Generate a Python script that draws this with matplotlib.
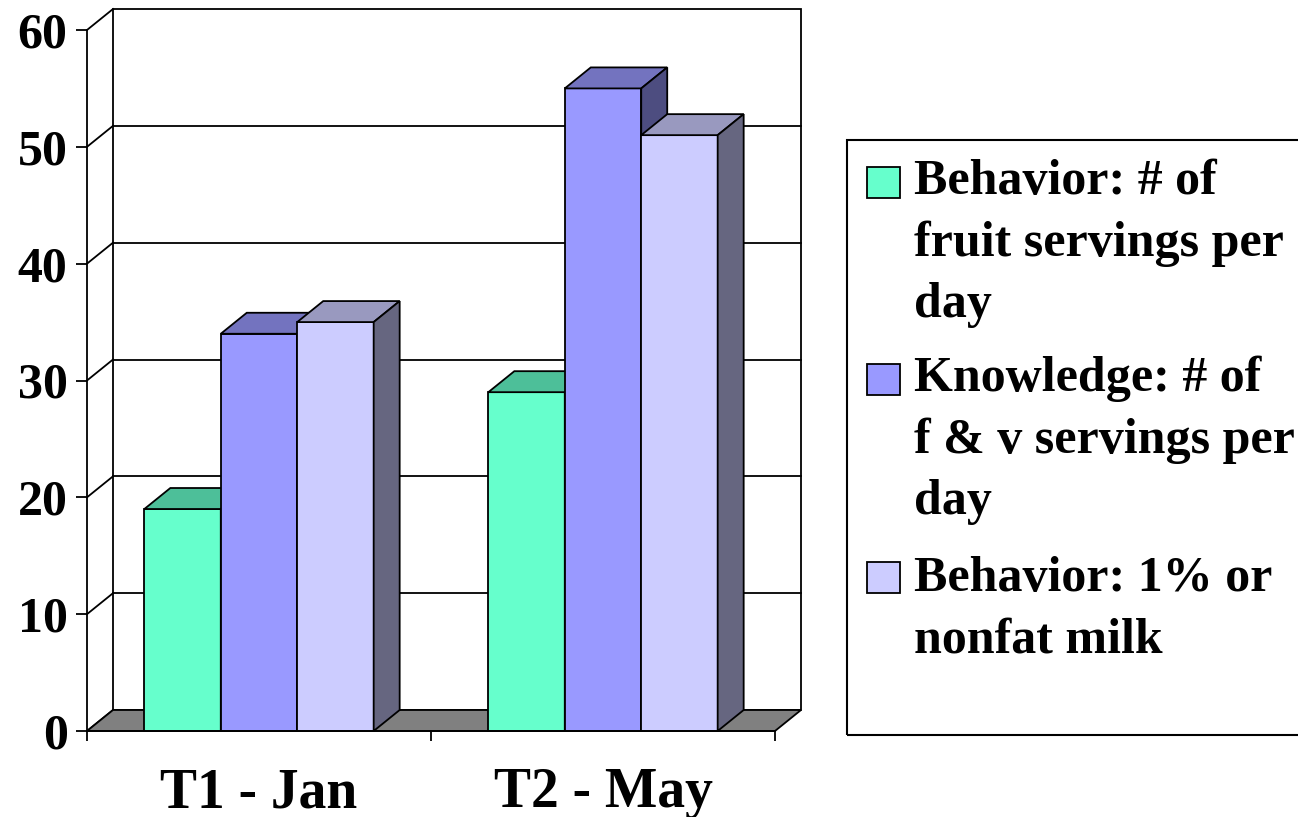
import matplotlib
matplotlib.use("Agg")
import matplotlib.pyplot as plt
from matplotlib.patches import Rectangle, Polygon

# data
categories = ["T1 - Jan", "T2 - May"]
series_names = ["Behavior: # of\nfruit servings per\nday",
                "Knowledge: # of\nf & v servings per\nday",
                "Behavior: 1% or\nnonfat milk"]
fruit_behavior = [19, 29]
fv_knowledge = [34, 55]
milk_behavior = [35, 51]
yticks = [0, 10, 20, 30, 40, 50, 60]

series = [fruit_behavior, fv_knowledge, milk_behavior]

# excel-ish 3d shading: front / top / side
front_colors = ["#66FFCC", "#9999FF", "#CCCCFF"]
top_colors = ["#4DBF99", "#7373BF", "#9999BF"]
side_colors = ["#338066", "#4D4D80", "#666680"]

plt.rcParams["font.family"] = ["Liberation Serif", "DejaVu Serif"]
plt.rcParams["font.weight"] = "bold"

W, H = 1298, 817
fig = plt.figure(figsize=(W / 100, H / 100), dpi=100)
# front plane of the 3d box (pixels)
x0, x1, y0, y1 = 87, 775, 731, 30
ax = fig.add_axes([x0 / W, (H - y0) / H, (x1 - x0) / W, (y0 - y1) / H])
ax.set_xlim(0, 2)
ax.set_ylim(0, 60)
ax.patch.set_visible(False)

# depth offset of the box, px -> data units
ddx = 26 / ((x1 - x0) / 2)
ddy = 21 / ((y0 - y1) / 60)
lw = 1.3

# back wall + floor
ax.add_patch(Rectangle((ddx, ddy), 2, 60, facecolor="white", edgecolor="black",
                       lw=lw, zorder=0.5, clip_on=False))
ax.add_patch(Polygon([(0, 0), (2, 0), (2 + ddx, ddy), (ddx, ddy)], closed=True,
                     facecolor="#808080", edgecolor="black", lw=lw, zorder=1, clip_on=False))
for v in yticks[1:-1]:
    ax.plot([ddx, 2 + ddx], [v + ddy, v + ddy], color="black", lw=lw, zorder=0.8, clip_on=False)
for v in yticks:
    ax.plot([0, ddx], [v, v + ddy], color="black", lw=lw, zorder=0.8, clip_on=False)

# bars, painted left to right so later bars cover earlier side faces
bw = (2 / 3) / 3
n = 0
for i in range(len(categories)):
    for k, vals in enumerate(series):
        left = i + 1 / 6 + k * bw
        h = vals[i]
        z = 2 + n * 0.1
        ax.bar(left, h, width=bw, align="edge", color=front_colors[k],
               edgecolor="black", lw=lw, zorder=z, clip_on=False)
        ax.add_patch(Polygon([(left, h), (left + bw, h), (left + bw + ddx, h + ddy),
                              (left + ddx, h + ddy)], closed=True, facecolor=top_colors[k],
                             edgecolor="black", lw=lw, zorder=z, clip_on=False))
        ax.add_patch(Polygon([(left + bw, 0), (left + bw + ddx, ddy), (left + bw + ddx, h + ddy),
                              (left + bw, h)], closed=True, facecolor=side_colors[k],
                             edgecolor="black", lw=lw, zorder=z, clip_on=False))
        n += 1

for s in ["top", "right"]:
    ax.spines[s].set_visible(False)
for s in ["left", "bottom"]:
    ax.spines[s].set_linewidth(lw)
    ax.spines[s].set_zorder(5)

ax.set_yticks(yticks)
ax.tick_params(axis="y", direction="out", length=8, width=lw, pad=6, labelsize=36)
ax.set_xticks([0, 1, 2])
ax.set_xticklabels([])
ax.tick_params(axis="x", which="major", direction="out", length=7, width=lw)
ax.set_xticks([0.5, 1.5], categories, minor=True)
ax.tick_params(axis="x", which="minor", length=0, pad=26, labelsize=40)

# legend box, drawn by hand like the excel one (runs off the right edge)
fig.add_artist(Rectangle((847 / W, (H - 735) / H), (1320 - 847) / W, (735 - 140) / H,
                         transform=fig.transFigure, fill=False, edgecolor="black", lw=1.5))
base_px = [198, 395, 593]   # first-line baselines
line_px = 59.5
for k, name in enumerate(series_names):
    b = base_px[k]
    fig.add_artist(Rectangle((867 / W, (H - b) / H), 33 / W, 31 / H, transform=fig.transFigure,
                             facecolor=front_colors[k], edgecolor="black", lw=1.3))
    last = b + (name.count("\n")) * line_px
    fig.text(914 / W, (H - last) / H, name, fontsize=36, va="baseline", ha="left",
             linespacing=1.43)

fig.savefig("out.png", dpi=100)
